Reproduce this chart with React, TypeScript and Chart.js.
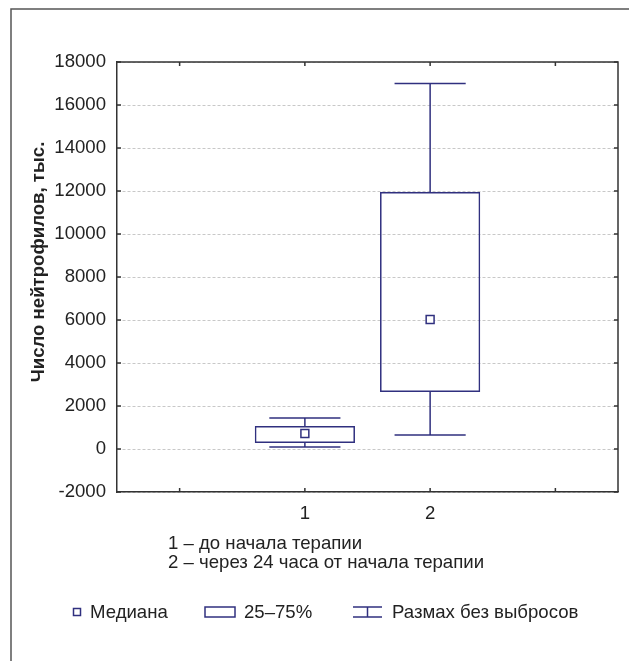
import React, { useEffect, useRef } from "react";
import { Chart, registerables } from "chart.js";

Chart.register(...registerables);

// Groups and box-plot statistics
const groups = ["1", "2"];
const axisLabels = ["", "1", "2", ""];
const whiskerMin = [90, 650];
const quartile1 = [280, 2650];
const medians = [720, 6020];
const quartile3 = [1070, 11950];
const whiskerMax = [1440, 17000];
const yTicks = { min: -2000, max: 18000, step: 2000 };

const yTitle = "Число нейтрофилов, тыс.";
const footnotes = ["1 – до начала терапии", "2 – через 24 часа от начала терапии"];
const legendLabels = ["Медиана", "25–75%", "Размах без выбросов"];

const NAVY = "#30307f";
const AXIS = "#333333";
const TEXT = "#222222";
const FONT = "'Liberation Sans', Arial, sans-serif";
const FS = 18.6;

const decorPlugin = {
  id: "decor",
  beforeDraw(chart: any) {
    const ctx = chart.ctx;
    ctx.save();
    ctx.fillStyle = "#ffffff";
    ctx.fillRect(0, 0, chart.width, chart.height);
    ctx.strokeStyle = "#555555";
    ctx.lineWidth = 1.5;
    ctx.beginPath();
    ctx.moveTo(11, chart.height + 2);
    ctx.lineTo(11, 9);
    ctx.lineTo(chart.width + 2, 9);
    ctx.stroke();
    ctx.restore();
  },
  afterDatasetsDraw(chart: any) {
    const ctx = chart.ctx;
    const x = chart.scales.x;
    const y = chart.scales.y;
    const catW = x.getPixelForValue(1) - x.getPixelForValue(0);
    const capHalf = catW * 0.284;
    ctx.save();
    ctx.strokeStyle = NAVY;
    ctx.lineWidth = 1.5;
    groups.forEach((_, i) => {
      const xc = x.getPixelForValue(i + 1);
      const yQ3 = y.getPixelForValue(quartile3[i]);
      const yMax = y.getPixelForValue(whiskerMax[i]);
      const yQ1 = y.getPixelForValue(quartile1[i]);
      const yMin = y.getPixelForValue(whiskerMin[i]);
      ctx.beginPath();
      ctx.moveTo(xc, yQ3);
      ctx.lineTo(xc, yMax);
      ctx.moveTo(xc - capHalf, yMax);
      ctx.lineTo(xc + capHalf, yMax);
      ctx.moveTo(xc, yQ1);
      ctx.lineTo(xc, yMin);
      ctx.moveTo(xc - capHalf, yMin);
      ctx.lineTo(xc + capHalf, yMin);
      ctx.stroke();
    });
    ctx.restore();
  },
  afterDraw(chart: any) {
    const ctx = chart.ctx;
    const a = chart.chartArea;
    const x = chart.scales.x;
    const y = chart.scales.y;
    ctx.save();
    // top and right borders
    ctx.strokeStyle = AXIS;
    ctx.lineWidth = 1.5;
    ctx.beginPath();
    ctx.moveTo(a.left, a.top);
    ctx.lineTo(a.right, a.top);
    ctx.lineTo(a.right, a.bottom);
    ctx.stroke();
    // inner tick marks
    const tl = 4;
    ctx.beginPath();
    y.ticks.forEach((t: any) => {
      const py = y.getPixelForValue(t.value);
      ctx.moveTo(a.left, py);
      ctx.lineTo(a.left + tl, py);
      ctx.moveTo(a.right, py);
      ctx.lineTo(a.right - tl, py);
    });
    axisLabels.forEach((_, i) => {
      const px = x.getPixelForValue(i);
      ctx.moveTo(px, a.top);
      ctx.lineTo(px, a.top + tl);
      ctx.moveTo(px, a.bottom);
      ctx.lineTo(px, a.bottom - tl);
    });
    ctx.stroke();

    // y title
    ctx.fillStyle = TEXT;
    ctx.font = `bold ${FS}px ${FONT}`;
    ctx.textAlign = "center";
    ctx.textBaseline = "middle";
    ctx.save();
    ctx.translate(39, 262);
    ctx.rotate(-Math.PI / 2);
    ctx.fillText(yTitle, 0, 0);
    ctx.restore();

    // footnotes
    ctx.font = `${FS}px ${FONT}`;
    ctx.textAlign = "left";
    ctx.fillText(footnotes[0], 168, 544);
    ctx.fillText(footnotes[1], 168, 563);

    // legend
    const ly = 612;
    ctx.strokeStyle = NAVY;
    ctx.lineWidth = 1.5;
    ctx.strokeRect(73.5, ly - 3.5, 7, 7);
    ctx.fillText(legendLabels[0], 90, ly + 1);
    ctx.strokeRect(205, ly - 5, 30, 10);
    ctx.fillText(legendLabels[1], 244, ly + 1);
    ctx.beginPath();
    ctx.moveTo(353, ly - 5);
    ctx.lineTo(382, ly - 5);
    ctx.moveTo(367.5, ly - 5);
    ctx.lineTo(367.5, ly + 5);
    ctx.moveTo(353, ly + 5);
    ctx.lineTo(382, ly + 5);
    ctx.stroke();
    ctx.fillText(legendLabels[2], 392, ly + 1);
    ctx.restore();
  },
};

export default function App() {
  const ref = useRef<HTMLCanvasElement | null>(null);
  useEffect(() => {
    if (!ref.current) return;
    const boxData = axisLabels.map((_, i) =>
      i >= 1 && i <= groups.length ? [quartile1[i - 1], quartile3[i - 1]] : null
    );
    const medData = axisLabels.map((_, i) =>
      i >= 1 && i <= groups.length ? medians[i - 1] : null
    );
    const chart = new Chart(ref.current, {
      type: "bar",
      data: {
        labels: axisLabels,
        datasets: [
          {
            type: "bar",
            label: "25–75%",
            data: boxData as any,
            backgroundColor: "rgba(255,255,255,0)",
            borderColor: NAVY,
            borderWidth: 1.5,
            borderSkipped: false,
            barPercentage: 0.8,
            categoryPercentage: 1.0,
          } as any,
          {
            type: "line",
            label: "Медиана",
            data: medData as any,
            showLine: false,
            pointStyle: "rect",
            pointRadius: 5.6,
            pointBorderWidth: 1.5,
            pointBorderColor: NAVY,
            pointBackgroundColor: "#ffffff",
          } as any,
        ],
      },
      options: {
        responsive: false,
        animation: false,
        layout: { padding: { left: 0, top: 62, right: 11, bottom: 129 } },
        plugins: { legend: { display: false }, tooltip: { enabled: false } },
        scales: {
          x: {
            type: "category",
            offset: true,
            grid: { display: false, offset: false },
            border: { display: true, color: AXIS, width: 1.5 },
            ticks: {
              color: TEXT,
              font: { family: FONT, size: FS },
              padding: 3,
              maxRotation: 0,
              autoSkip: false,
            },
            afterFit: (s: any) => {
              s.height = 40;
            },
          },
          y: {
            min: yTicks.min,
            max: yTicks.max,
            grid: {
              display: true,
              drawTicks: false,
              color: "#c8c8c8",
              lineWidth: 1,
            },
            border: { display: true, color: AXIS, width: 1.5, dash: [3, 2] },
            ticks: {
              stepSize: yTicks.step,
              color: TEXT,
              font: { family: FONT, size: FS },
              padding: 11,
              callback: (v: any) => String(v),
            },
            afterFit: (s: any) => {
              s.width = 117;
            },
          },
        },
      },
      plugins: [decorPlugin],
    });
    return () => chart.destroy();
  }, []);
  return (
    <div style={{ position: "fixed", left: 0, top: 0, width: 629, height: 661, background: "#fff" }}>
      <canvas ref={ref} width={629} height={661} />
    </div>
  );
}
